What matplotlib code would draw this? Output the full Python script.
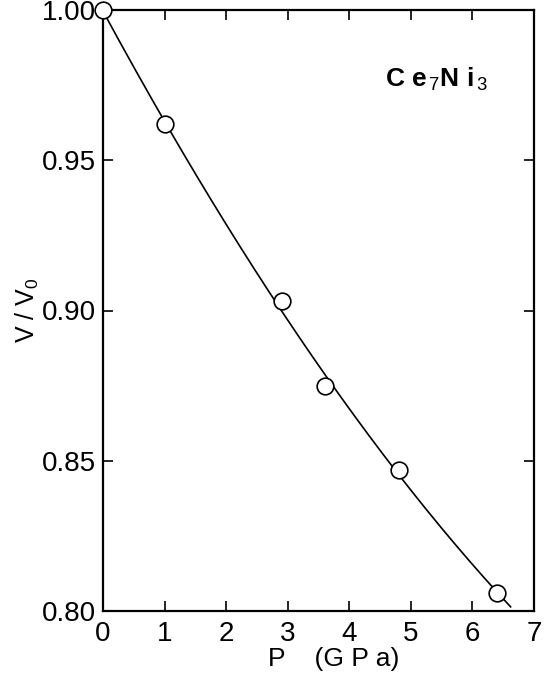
import numpy as np
import matplotlib
matplotlib.use("Agg")
import matplotlib.pyplot as plt

# Data
pressure = [0.0, 1.0, 2.9, 3.6, 4.8, 6.4]
vratio = [1.000, 0.962, 0.903, 0.875, 0.847, 0.806]
fit_pmax = 6.62
xticks = [0, 1, 2, 3, 4, 5, 6, 7]
yticks = [0.80, 0.85, 0.90, 0.95, 1.00]

plt.rcParams['font.family'] = ['Liberation Sans', 'DejaVu Sans']
plt.rcParams['mathtext.fontset'] = 'custom'
plt.rcParams['mathtext.rm'] = 'Liberation Sans'
plt.rcParams['mathtext.it'] = 'Liberation Sans'
plt.rcParams['mathtext.bf'] = 'Liberation Sans:bold'

fig = plt.figure(figsize=(5.45, 6.75), dpi=100)
ax = fig.add_axes([103/545, 1-611/675, (534-103)/545, (611-10)/675])

# smooth fit curve through the data
coef = np.polyfit(pressure, vratio, 2)
pp = np.linspace(0, fit_pmax, 200)
ax.plot(pp, np.polyval(coef, pp), color='black', lw=1.2, zorder=2)
ax.plot(pressure, vratio, 'o', ms=12, mfc='white', mec='black', mew=1.2,
        zorder=3, clip_on=False)

ax.set_xlim(0, 7)
ax.set_ylim(0.80, 1.00)
ax.set_xticks(xticks)
ax.set_yticks(yticks)
ax.set_yticklabels([f"{v:.2f}" for v in yticks])
ax.tick_params(direction='in', length=7, width=1.2, top=True, right=True,
               labelsize=20)
ax.tick_params(axis='y', pad=5)
ax.tick_params(axis='x', pad=7)
for s in ax.spines.values():
    s.set_linewidth(1.6)

ax.set_xlabel("P    (G P a)", fontsize=19)
ax.xaxis.set_label_coords(0.535, -0.060, transform=ax.transAxes)
ax.xaxis.label.set_va('top')
ax.set_ylabel("V / V$_0$", fontsize=18)
ax.yaxis.set_label_coords(-0.145, 0.5, transform=ax.transAxes)

ax.text(0.655, 0.885, r"C e$_{\,7}$N i$_{\,3}$", transform=ax.transAxes,
        fontsize=19, fontweight='bold', va='center', ha='left')

fig.savefig("out.png", dpi=100)
